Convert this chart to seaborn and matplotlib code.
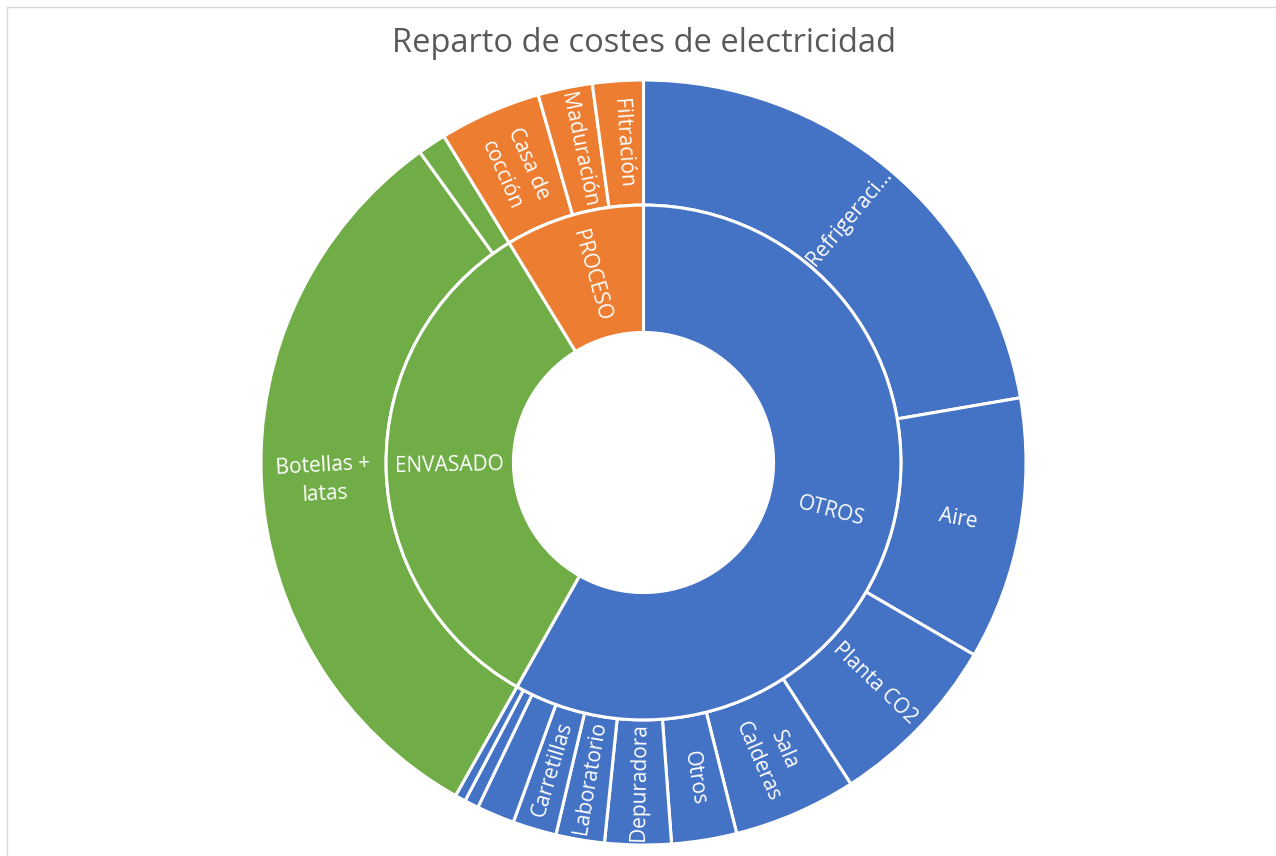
import numpy as np
import pandas as pd
import matplotlib
matplotlib.use("Agg")
import matplotlib.pyplot as plt
from matplotlib.lines import Line2D
import seaborn as sns

# Electricity cost breakdown (% of total), grouped by area
groups = ["OTROS", "ENVASADO", "PROCESO"]
group_colors = ["#4472C4", "#70AD47", "#ED7D31"]

sub_parent = ["OTROS"] * 11 + ["ENVASADO"] * 2 + ["PROCESO"] * 3
sub_labels = ["Refrigeración", "Aire", "Planta CO2", "Sala\nCalderas", "Otros",
              "Depuradora", "Laboratorio", "Carretillas", "", "", "",
              "Botellas +\nlatas", "",
              "Casa de\ncocción", "Maduración", "Filtración"]
sub_values = [22.3, 11.1, 7.5, 5.2, 2.75,
              2.8, 2.05, 1.85, 1.6, 0.6, 0.45,
              31.9, 1.2,
              4.3, 2.3, 2.14]

df = pd.DataFrame({"parent": sub_parent, "label": sub_labels, "value": sub_values})
group_values = df.groupby("parent", sort=False)["value"].sum().reindex(groups)

sns.set_theme(style="white")
plt.rcParams["font.family"] = ["Open Sans", "DejaVu Sans"]

W, H, DPI = 1276, 856, 100
fig = plt.figure(figsize=(W / DPI, H / DPI), dpi=DPI)
fig.patch.set_facecolor("white")

cx, cy, R = 643.5, 462.5, 382.5
ax = fig.add_axes([(cx - R) / W, (H - cy - R) / H, 2 * R / W, 2 * R / H])

R_HOLE, R_MID = 0.34, 0.673
wedge_kw = dict(edgecolor="white", linewidth=2.2)

color_of = dict(zip(groups, group_colors))
outer_colors = [color_of[p] for p in df["parent"]]

ax.pie(df["value"], radius=1.0, colors=outer_colors, startangle=90,
       counterclock=False, wedgeprops=dict(width=1.0 - R_MID, **wedge_kw))
ax.pie(group_values.values, radius=R_MID, colors=group_colors, startangle=90,
       counterclock=False, wedgeprops=dict(width=R_MID - R_HOLE, **wedge_kw))
ax.set_xlim(-1, 1)
ax.set_ylim(-1, 1)
ax.set_aspect("auto")
ax.axis("off")


def shorten(text, limit=11):
    return "\n".join(line if len(line) <= limit else line[:limit] + "…"
                     for line in text.split("\n"))


def place_labels(values, labels, radius):
    total = float(np.sum(values))
    edges = np.concatenate([[0.0], np.cumsum(values)]) / total * 360.0
    for lab, a0, a1 in zip(labels, edges[:-1], edges[1:]):
        if not lab:
            continue
        mid = np.deg2rad((a0 + a1) / 2.0)
        x, y = radius * np.sin(mid), radius * np.cos(mid)
        rot = 90.0 - np.rad2deg(mid)
        rot = (rot + 180.0) % 360.0 - 180.0
        if rot > 90.0:
            rot -= 180.0
        elif rot <= -90.0:
            rot += 180.0
        ax.text(x, y, shorten(lab), rotation=rot, rotation_mode="anchor",
                ha="center", va="center", color="white", fontsize=15,
                linespacing=1.5, multialignment="center")


place_labels(df["value"].values, df["label"].tolist(), (R_MID + 1.0) / 2)
place_labels(group_values.values, groups, (R_HOLE + R_MID) / 2)

fig.text(cx / W, 1 - 44 / H, "Reparto de costes de electricidad",
         ha="center", va="center", fontsize=23.5, color="#595959")

# thin chart-area border along the top and left
fig.add_artist(Line2D([7 / W, 1], [1 - 7 / H, 1 - 7 / H], color="#d9d9d9",
                      linewidth=1.0, transform=fig.transFigure))
fig.add_artist(Line2D([7 / W, 7 / W], [0, 1 - 7 / H], color="#d9d9d9",
                      linewidth=1.0, transform=fig.transFigure))

fig.savefig("out.png", dpi=DPI, facecolor="white")
